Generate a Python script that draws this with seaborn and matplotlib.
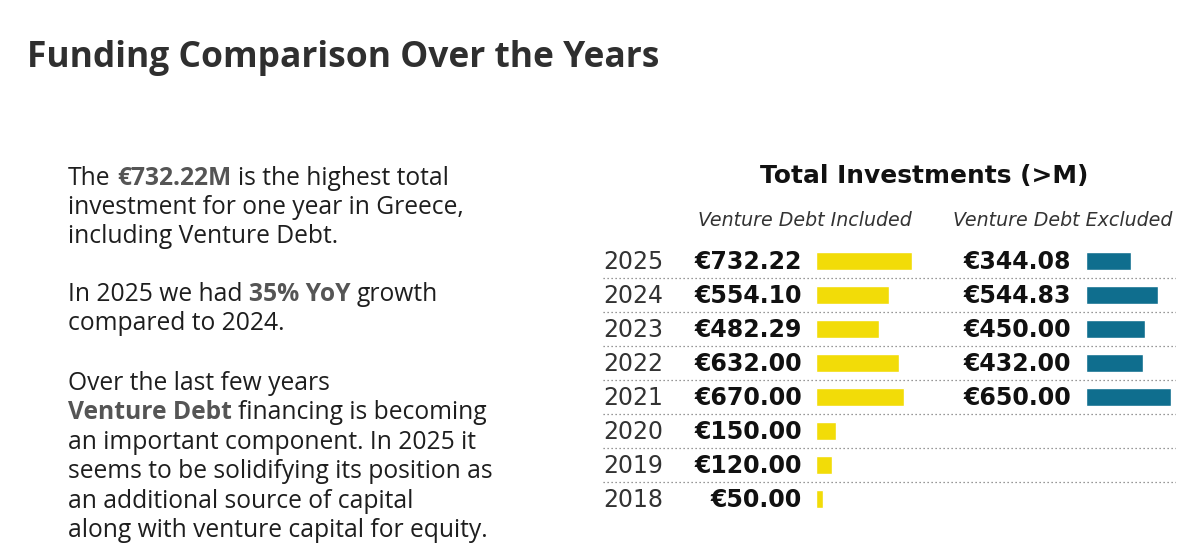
import numpy as np
import pandas as pd
import matplotlib.pyplot as plt
import seaborn as sns

# ── Data ─────────────────────────────────────────────────────────────────────
years = ['2025', '2024', '2023', '2022', '2021', '2020', '2019', '2018']
included = [732.22, 554.10, 482.29, 632.00, 670.00, 150.00, 120.00, 50.00]
excluded = [344.08, 544.83, 450.00, 432.00, 650.00, np.nan, np.nan, np.nan]

title = 'Funding Comparison Over the Years'
chart_title = 'Total Investments (>M)'
col_headers = ['Venture Debt Included', 'Venture Debt Excluded']

# each line: list of (text, bold) runs
paragraph_lines = [
    [('The', False), ('€732.22M', True), ('is the highest total', False)],
    [('investment for one year in Greece,', False)],
    [('including Venture Debt.', False)],
    [('In 2025 we had', False), ('35% YoY', True), ('growth', False)],
    [('compared to 2024.', False)],
    [('Over the last few years', False)],
    [('Venture Debt', True), ('financing is becoming', False)],
    [('an important component. In 2025 it', False)],
    [('seems to be solidifying its position as', False)],
    [('an additional source of capital', False)],
    [('along with venture capital for equity.', False)],
]
line_baselines = [185, 214, 243, 301, 330, 390, 419, 449, 478, 508, 537]

df = pd.DataFrame({'year': years, 'included': included, 'excluded': excluded})

# ── Setup ────────────────────────────────────────────────────────────────────
sns.set_style('white')
plt.rcParams['font.family'] = ['Open Sans', 'DejaVu Sans']

YELLOW = '#F2DC08'
BLUE = '#0F6E8E'
W, H = 1202, 556
fig = plt.figure(figsize=(W / 100, H / 100), dpi=100)
fig.patch.set_facecolor('white')
CHART_FONT = ['DejaVu Sans']


def box(x0, y0, x1, y1):
    return [x0 / W, 1 - y1 / H, (x1 - x0) / W, (y1 - y0) / H]


# ── Headline ─────────────────────────────────────────────────────────────────
fig.text(27 / W, 1 - 67 / H, title, fontsize=25.5, fontweight='bold',
         color='#2f2f2f', va='baseline', ha='left')

# ── Left paragraph with bold runs ────────────────────────────────────────────
renderer = fig.canvas.get_renderer()
body_size = 17.7


def text_width(s, bold):
    t = fig.text(0, 0, s, fontsize=body_size, fontweight='bold' if bold else 'normal')
    w = t.get_window_extent(renderer=renderer).width
    t.remove()
    return w


space_w = text_width('a a', False) - text_width('aa', False)
for runs, base in zip(paragraph_lines, line_baselines):
    x = 68
    for txt, bold in runs:
        t = fig.text(x / W, 1 - base / H, txt, fontsize=body_size,
                     fontweight='bold' if bold else 'normal',
                     color='#555555' if bold else '#1e1e1e', va='baseline', ha='left')
        x += t.get_window_extent(renderer=renderer).width + space_w

# ── Chart ────────────────────────────────────────────────────────────────────
px_per_m = 0.1313
row_top, row_bot = 244, 516
n = len(years)

fig.text(924 / W, 1 - 176 / H, chart_title, fontsize=17.9, fontweight='bold',
         color='#111111', ha='center', va='center', family=CHART_FONT)
fig.text(805 / W, 1 - 220 / H, col_headers[0], fontsize=13.7, style='italic',
         color='#333333', ha='center', va='center', family=CHART_FONT)
fig.text(1063 / W, 1 - 220 / H, col_headers[1], fontsize=13.7, style='italic',
         color='#333333', ha='center', va='center', family=CHART_FONT)

# background axis for separators and labels (x in pixels)
ax_bg = fig.add_axes(box(603, row_top, 1176, row_bot))
ax_bg.set_xlim(603, 1176)
ax_bg.set_ylim(n - 0.5, -0.5)
ax_bg.axis('off')
for i in range(n - 1):
    ax_bg.axhline(i + 0.5, color='#777777', lw=0.9, ls=(0, (1, 2.2)))
for i, row in df.iterrows():
    ax_bg.text(633, i + 0.03, row['year'], ha='center', va='center', fontsize=17,
               color='#333333', family=CHART_FONT)
    ax_bg.text(802, i + 0.03, f"€{row['included']:.2f}", ha='right', va='center', fontsize=17,
               fontweight='bold', color='#111111', family=CHART_FONT)
    if not np.isnan(row['excluded']):
        ax_bg.text(1071, i + 0.03, f"€{row['excluded']:.2f}", ha='right', va='center',
                   fontsize=17, fontweight='bold', color='#111111', family=CHART_FONT)

# bars — both panels share the same px-per-million scale
inc_w = 130
ax_inc = fig.add_axes(box(816, row_top, 816 + inc_w, row_bot))
sns.barplot(data=df, x='included', y='year', order=years, orient='h',
            color=YELLOW, saturation=1, width=0.53, ax=ax_inc)
ax_inc.set_xlim(0, inc_w / px_per_m)

exc_w = 90
ax_exc = fig.add_axes(box(1086, row_top, 1086 + exc_w, row_bot))
sns.barplot(data=df, x='excluded', y='year', order=years, orient='h',
            color=BLUE, saturation=1, width=0.53, ax=ax_exc)
ax_exc.set_xlim(0, exc_w / px_per_m)

for ax in (ax_inc, ax_exc):
    ax.set_ylim(n - 0.5, -0.5)
    ax.axis('off')
    ax.patch.set_alpha(0)

plt.savefig('out.png', dpi=100, facecolor='white')
plt.close()
